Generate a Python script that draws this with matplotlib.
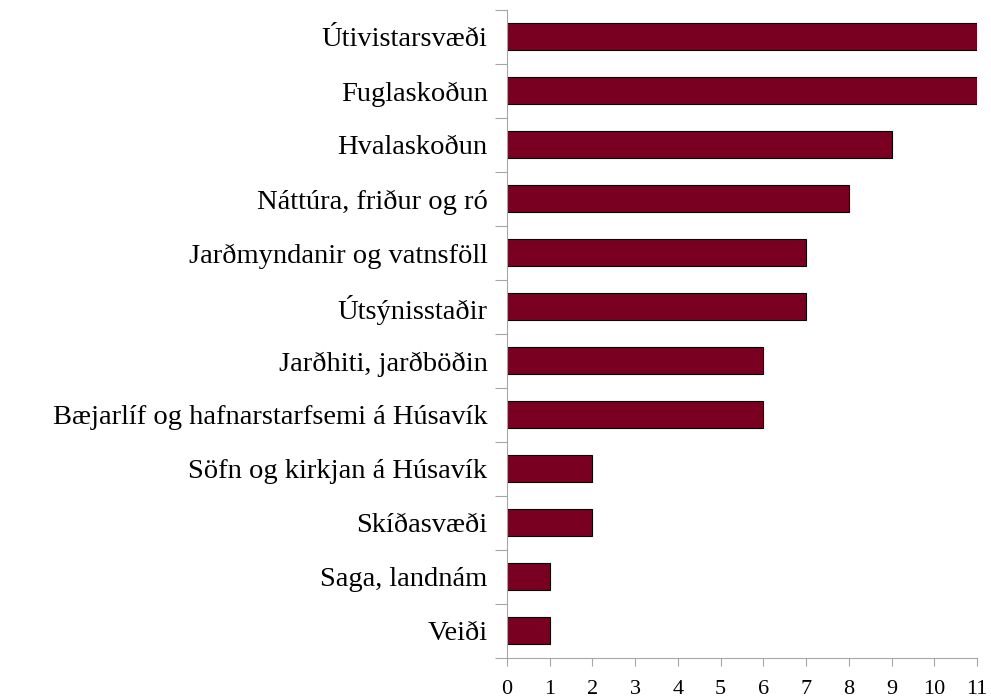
import matplotlib.pyplot as plt
import numpy as np
from matplotlib.ticker import FixedLocator

# Data (top to bottom as in the chart)
categories = ['Útivistarsvæði', 'Fuglaskoðun', 'Hvalaskoðun', 'Náttúra, friður og ró',
              'Jarðmyndanir og vatnsföll', 'Útsýnisstaðir', 'Jarðhiti, jarðböðin',
              'Bæjarlíf og hafnarstarfsemi á Húsavík', 'Söfn og kirkjan á Húsavík',
              'Skíðasvæði', 'Saga, landnám', 'Veiði']
values = [11, 11, 9, 8, 7, 7, 6, 6, 2, 2, 1, 1]

plt.rcParams['font.family'] = ['Liberation Serif', 'DejaVu Serif']

fig = plt.figure(figsize=(9.91, 6.99), dpi=100)
ax = fig.add_axes([0.5116, 0.0587, 0.4743, 0.927])

n = len(categories)
y = np.arange(n)[::-1]
ax.barh(y, values, height=0.5, color='#7a0021', edgecolor='black', linewidth=0.8)

ax.set_xlim(0, 11)
ax.set_ylim(-0.5, n - 0.5)
ax.set_xticks(range(0, 12))
ax.tick_params(axis='x', direction='out', length=6, color='#a6a6a6', labelsize=16, pad=10)

# category labels on minor ticks, boundary tick marks on major ticks
ax.yaxis.set_major_locator(FixedLocator(np.arange(-0.5, n, 1.0)))
ax.yaxis.set_major_formatter(plt.NullFormatter())
ax.yaxis.set_minor_locator(FixedLocator(y))
ax.set_yticklabels(categories, minor=True)
ax.tick_params(axis='y', which='major', direction='out', length=9, color='#a6a6a6')
ax.tick_params(axis='y', which='minor', length=0, labelsize=20.5, pad=14)

for s in ['top', 'right']:
    ax.spines[s].set_visible(False)
for s in ['left', 'bottom']:
    ax.spines[s].set_color('#a6a6a6')

fig.savefig('out.png', dpi=100)
